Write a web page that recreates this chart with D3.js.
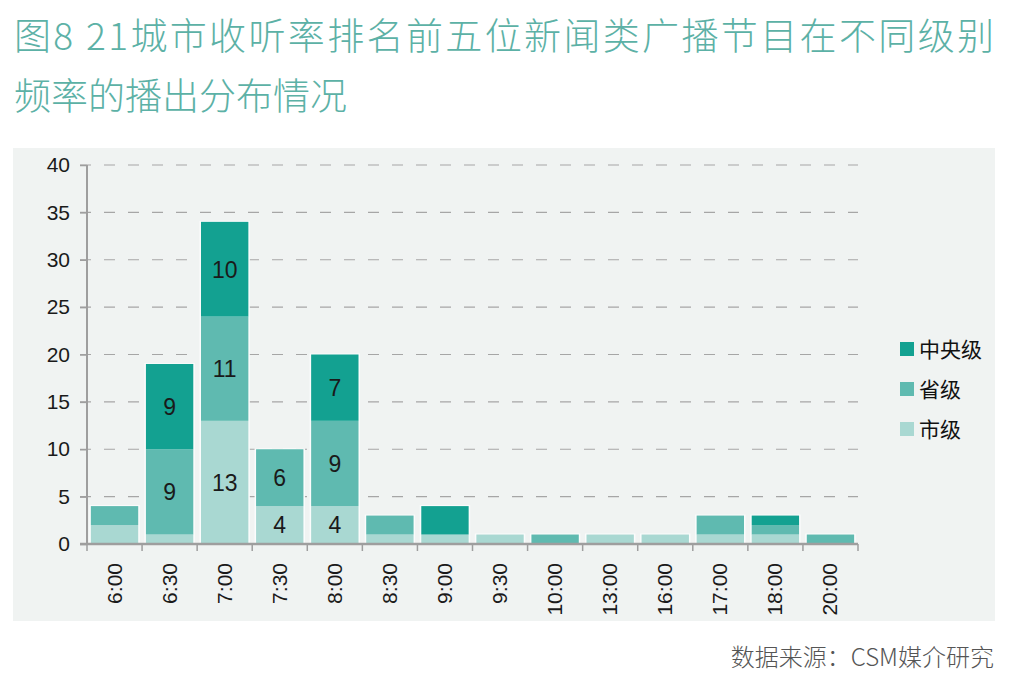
<!DOCTYPE html>
<html>
<head>
<meta charset="utf-8">
<script src="https://cdn.jsdelivr.net/npm/d3@7"></script>
<style>
  body { margin: 0; background: #ffffff; }
  svg { display: block; }
</style>
</head>
<body>
<div id="chart"></div>
<script>
// Data
var categories = ["6:00", "6:30", "7:00", "7:30", "8:00", "8:30", "9:00", "9:30", "10:00", "13:00", "16:00", "17:00", "18:00", "20:00"];
var cityValues     = [2, 1, 13, 4, 4, 1, 1, 1, 0, 1, 1, 1, 1, 0];
var provinceValues = [2, 9, 11, 6, 9, 2, 0, 0, 1, 0, 0, 2, 1, 1];
var centralValues  = [0, 9, 10, 0, 7, 0, 3, 0, 0, 0, 0, 0, 1, 0];
var seriesNames = ["市级", "省级", "中央级"];
var yTicks = [0, 5, 10, 15, 20, 25, 30, 35, 40];

function init() {
    var width = 1024;
    var height = 688;
    var sans = "'Liberation Sans', Arial, 'Noto Sans CJK SC', sans-serif";
    var cjk = "'Noto Sans CJK SC', 'Liberation Sans', sans-serif";

    var colors = { "市级": "#a9d8d2", "省级": "#5fbab0", "中央级": "#13a191" };

    var svg = d3.select("#chart")
        .append("svg")
        .attr("width", width)
        .attr("height", height);

    // Title
    var title = svg.append("g")
        .attr("fill", "#5cb1a6")
        .style("font-family", cjk)
        .style("font-weight", 300)
        .style("font-size", "37px");
    title.append("text").attr("x", 14).attr("y", 50)
        .attr("textLength", 980).attr("lengthAdjust", "spacing")
        .text("图8 21城市收听率排名前五位新闻类广播节目在不同级别");
    title.append("text").attr("x", 14).attr("y", 110)
        .text("频率的播出分布情况");

    // Panel background
    svg.append("rect")
        .attr("x", 13).attr("y", 148)
        .attr("width", 982).attr("height", 473)
        .attr("fill", "#f0f3f2");

    // Scales
    var x = d3.scaleBand()
        .domain(categories)
        .range([87, 858])
        .paddingInner(0.14)
        .paddingOuter(0.07);

    var y = d3.scaleLinear()
        .domain([0, 40])
        .range([544, 165]);

    // Gridlines
    svg.append("g")
        .selectAll("line")
        .data(yTicks.filter(function (d) { return d > 0; }))
        .enter()
        .append("line")
        .attr("x1", 80).attr("x2", 858)
        .attr("y1", function (d) { return y(d); })
        .attr("y2", function (d) { return y(d); })
        .attr("stroke", "#a6a6a6")
        .attr("stroke-width", 1.2)
        .attr("stroke-dasharray", "11,13");

    // Stack
    var table = categories.map(function (c, i) {
        return { cat: c, "市级": cityValues[i], "省级": provinceValues[i], "中央级": centralValues[i] };
    });
    var stack = d3.stack().keys(seriesNames)(table);
    var top = stack[stack.length - 1];

    // light halo behind each column
    svg.append("g")
        .selectAll("rect")
        .data(top)
        .enter()
        .append("rect")
        .attr("x", function (d) { return x(d.data.cat) - 1.5; })
        .attr("width", x.bandwidth() + 3)
        .attr("y", function (d) { return y(d[1]) - 1; })
        .attr("height", function (d) { return y(0) - y(d[1]) + 1; })
        .attr("fill", "#fbfcfc");

    var layers = svg.append("g")
        .selectAll("g")
        .data(stack)
        .enter()
        .append("g")
        .attr("fill", function (d) { return colors[d.key]; });

    layers.selectAll("rect")
        .data(function (d) { return d.filter(function (p) { return p[1] - p[0] > 0; }); })
        .enter()
        .append("rect")
        .attr("x", function (d) { return x(d.data.cat); })
        .attr("width", x.bandwidth())
        .attr("y", function (d) { return y(d[1]); })
        .attr("height", function (d) { return y(d[0]) - y(d[1]); });

    // Segment labels
    layers.selectAll("text")
        .data(function (d) { return d.filter(function (p) { return p[1] - p[0] >= 4; }); })
        .enter()
        .append("text")
        .attr("x", function (d) { return x(d.data.cat) + x.bandwidth() / 2; })
        .attr("y", function (d) { return (y(d[0]) + y(d[1])) / 2; })
        .attr("dy", "0.36em")
        .attr("text-anchor", "middle")
        .attr("fill", "#1a1a1a")
        .style("font-family", sans)
        .style("font-size", "23px")
        .text(function (d) { return d[1] - d[0]; });

    // Y axis
    var yAxis = svg.append("g")
        .attr("transform", "translate(87,0)")
        .call(d3.axisLeft(y).tickValues(yTicks).tickSize(7).tickPadding(10));
    yAxis.select(".domain").attr("stroke", "#9e9e9e").attr("stroke-width", 2)
        .attr("d", "M0," + y(40) + "V" + y(0));
    yAxis.selectAll(".tick line").attr("stroke", "#9e9e9e").attr("stroke-width", 1.5);
    yAxis.selectAll(".tick text")
        .attr("fill", "#1a1a1a")
        .style("font-family", sans)
        .style("font-size", "21px");

    // X axis
    var step = x.step();
    var boundaries = categories.map(function (c) { return x(c) - x.paddingInner() * step / 2; });
    boundaries.push(858);
    var xAxis = svg.append("g");
    xAxis.append("line")
        .attr("x1", 80).attr("x2", 858)
        .attr("y1", y(0)).attr("y2", y(0))
        .attr("stroke", "#9e9e9e").attr("stroke-width", 2.5);
    xAxis.selectAll(".xtick")
        .data(boundaries)
        .enter()
        .append("line")
        .attr("class", "xtick")
        .attr("x1", function (d) { return d; })
        .attr("x2", function (d) { return d; })
        .attr("y1", y(0)).attr("y2", y(0) + 7)
        .attr("stroke", "#9e9e9e").attr("stroke-width", 1.5);
    xAxis.selectAll(".xlabel")
        .data(categories)
        .enter()
        .append("text")
        .attr("class", "xlabel")
        .attr("transform", function (d) {
            return "translate(" + (x(d) + x.bandwidth() / 2 + 7) + "," + (y(0) + 19) + ") rotate(-90)";
        })
        .attr("text-anchor", "end")
        .attr("fill", "#1a1a1a")
        .style("font-family", sans)
        .style("font-size", "21px")
        .text(function (d) { return d; });

    // Legend
    var legend = svg.append("g")
        .selectAll("g")
        .data(seriesNames.slice().reverse())
        .enter()
        .append("g")
        .attr("transform", function (d, i) { return "translate(900," + (349 + i * 40) + ")"; });
    legend.append("rect")
        .attr("x", 0).attr("y", -7)
        .attr("width", 14).attr("height", 14)
        .attr("fill", function (d) { return colors[d]; });
    legend.append("text")
        .attr("x", 19).attr("y", 0)
        .attr("dy", "0.36em")
        .attr("fill", "#111111")
        .style("font-family", cjk)
        .style("font-size", "21px")
        .text(function (d) { return d; });

    // Source
    svg.append("text")
        .attr("x", 994).attr("y", 666)
        .attr("text-anchor", "end")
        .attr("fill", "#555555")
        .style("font-family", cjk)
        .style("font-weight", 300)
        .style("font-size", "24px")
        .text("数据来源：CSM媒介研究");
}

window.onload = init;
</script>
</body>
</html>
